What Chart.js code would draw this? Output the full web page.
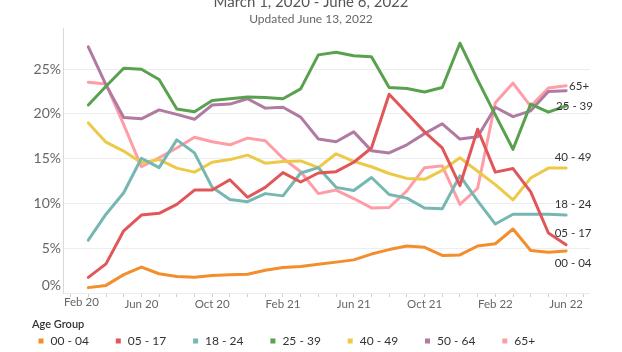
<!DOCTYPE html>
<html>
<head>
<meta charset="utf-8">
<title>Age Group</title>
<style>
  html, body { margin: 0; padding: 0; background: #fff; }
  #chart { display: block; }
</style>
</head>
<body>
<canvas id="chart" width="622" height="352"></canvas>
<script src="https://cdn.jsdelivr.net/npm/chart.js@4.4.0/dist/chart.umd.min.js"></script>
<script>
// Months plotted (x = index, Mar 20 = 0)
const months = ['Mar 20', 'Apr 20', 'May 20', 'Jun 20', 'Jul 20', 'Aug 20', 'Sep 20', 'Oct 20', 'Nov 20', 'Dec 20',
    'Jan 21', 'Feb 21', 'Mar 21', 'Apr 21', 'May 21', 'Jun 21', 'Jul 21', 'Aug 21', 'Sep 21', 'Oct 21', 'Nov 21', 'Dec 21',
    'Jan 22', 'Feb 22', 'Mar 22', 'Apr 22', 'May 22', 'Jun 22'];
const tickLabels = ['Feb 20', 'Jun 20', 'Oct 20', 'Feb 21', 'Jun 21', 'Oct 21', 'Feb 22', 'Jun 22'];
const yTicks = [0, 5, 10, 15, 20, 25];

const ageGroups = ['00 - 04', '05 - 17', '18 - 24', '25 - 39', '40 - 49', '50 - 64', '65+'];

// % of cases per age group
const age0004 = [0.6, 0.85, 2.05, 2.9, 2.15, 1.85, 1.75, 1.95, 2.05, 2.1, 2.55, 2.85, 2.95, 3.2,
    3.45, 3.7, 4.35, 4.85, 5.25, 5.1, 4.2, 4.25, 5.25, 5.5, 7.15, 4.75, 4.55, 4.7];
const age0517 = [1.75, 3.25, 6.95, 8.7, 8.9, 9.9, 11.5, 11.5, 12.65, 10.7, 11.8, 13.45, 12.4, 13.4,
    13.55, 14.6, 16.2, 22.2, 20.1, 18.0, 16.2, 12.0, 18.3, 13.5, 13.9, 11.3, 6.7, 5.4];
const age1824 = [5.9, 8.8, 11.2, 15.05, 14.0, 17.1, 15.65, 11.8, 10.45, 10.2, 11.1, 10.85, 13.4, 14.0,
    11.8, 11.45, 12.9, 11.0, 10.6, 9.5, 9.4, 13.1, 10.3, 7.7, 8.8, 8.8, 8.8, 8.7];
const age2539 = [21.0, 23.1, 25.1, 25.0, 23.85, 20.55, 20.25, 21.5, 21.7, 21.9, 21.85, 21.7, 22.8, 26.6,
    26.9, 26.5, 26.4, 22.95, 22.85, 22.45, 22.95, 27.9, 23.8, 19.9, 16.05, 21.1, 20.2, 20.9];
const age4049 = [19.0, 16.85, 15.85, 14.55, 14.9, 13.95, 13.5, 14.6, 14.9, 15.4, 14.5, 14.7, 14.75, 14.0,
    15.55, 14.7, 14.1, 13.35, 12.8, 12.7, 13.7, 15.1, 13.6, 12.1, 10.4, 12.85, 13.95, 13.95];
const age5064 = [27.5, 23.25, 19.6, 19.45, 20.45, 19.95, 19.4, 21.0, 21.1, 21.7, 20.65, 20.75, 19.65, 17.2,
    16.9, 18.0, 15.9, 15.65, 16.55, 17.8, 18.9, 17.2, 17.45, 20.75, 19.7, 20.35, 22.5, 22.6];
const age65 = [23.55, 23.35, 18.8, 14.1, 15.1, 16.2, 17.4, 16.9, 16.55, 17.3, 17.0, 15.05, 13.55, 11.1,
    11.5, 10.55, 9.5, 9.55, 11.4, 14.0, 14.2, 9.9, 11.7, 21.25, 23.45, 20.85, 22.9, 23.15];

const series = [age0004, age0517, age1824, age2539, age4049, age5064, age65];
const colors = ['#F28E2B', '#E15759', '#76B7B2', '#59A14F', '#EDC948', '#B07AA1', '#FF9DA7'];

// where the label sits next to the last point (dx, dy, align); null = no label
const endLabelPos = [
    { dx: 7, dy: 12, align: 'center' },
    { dx: 7, dy: -11, align: 'center' },
    { dx: 7, dy: -11, align: 'center' },
    { dx: -10, dy: 0, align: 'left' },
    { dx: 7, dy: -11, align: 'center' },
    null,
    { dx: 3, dy: 1, align: 'left' }
];

const FONT = 'Lato, "Open Sans", sans-serif';

const datasets = series.map((vals, i) => ({
    label: ageGroups[i],
    data: vals.map((v, j) => ({ x: j, y: v })),
    borderColor: colors[i],
    backgroundColor: colors[i],
    borderWidth: 3,
    pointRadius: 0,
    tension: 0,
    borderJoinStyle: 'round',
    borderCapStyle: 'round'
}));

// titre, étiquettes de fin et légende
const extras = {
    id: 'extras',
    afterDraw(chart) {
        const { ctx, chartArea, scales } = chart;
        ctx.save();

        ctx.textAlign = 'center';
        ctx.textBaseline = 'alphabetic';
        ctx.fillStyle = '#555';
        ctx.font = '15px ' + FONT;
        ctx.fillText('March 1, 2020 - June 6, 2022', 311, 7);
        ctx.textBaseline = 'middle';
        ctx.fillStyle = '#666';
        ctx.font = '12px ' + FONT;
        ctx.fillText('Updated June 13, 2022', 311, 19);

        // edge tick labels kept inside the axis like the original
        ctx.fillStyle = '#666';
        ctx.font = '14px ' + FONT;
        ctx.textAlign = 'right';
        ctx.fillText(yTicks[0] + '%', chartArea.left - 2, scales.y.getPixelForValue(0) - 8);
        ctx.font = '11.5px ' + FONT;
        ctx.textAlign = 'left';
        ctx.textBaseline = 'top';
        ctx.fillText(tickLabels[0], chartArea.left + 1, chartArea.bottom + 4);

        // labels at line ends
        ctx.fillStyle = '#333';
        ctx.font = '11.5px ' + FONT;
        ctx.textBaseline = 'middle';
        chart.data.datasets.forEach((ds, i) => {
            const pos = endLabelPos[i];
            if (!pos) return;
            const pts = chart.getDatasetMeta(i).data;
            const last = pts[pts.length - 1];
            ctx.textAlign = pos.align;
            ctx.fillText(ds.label, last.x + pos.dx, last.y + pos.dy);
        });

        // legend
        ctx.textAlign = 'left';
        ctx.fillStyle = '#333';
        ctx.font = '600 11px ' + FONT;
        ctx.fillText('Age Group', 32, 324);
        ctx.font = '12px ' + FONT;
        ageGroups.forEach((g, i) => {
            const x = 38.5 + i * 77.3;
            ctx.fillStyle = colors[i];
            ctx.fillRect(x, 338.5, 5, 5);
            ctx.fillStyle = '#333';
            ctx.fillText(g, x + 12, 341);
        });

        ctx.restore();
    }
};

new Chart(document.getElementById('chart'), {
    type: 'line',
    data: { datasets },
    options: {
        responsive: false,
        animation: false,
        devicePixelRatio: 1,
        layout: { padding: { top: 28, right: 32, bottom: 37, left: 0 } },
        plugins: { legend: { display: false }, tooltip: { enabled: false } },
        scales: {
            x: {
                type: 'linear',
                min: -1.43,
                max: 28.35,
                afterFit: s => { s.height = 22; },
                afterBuildTicks: axis => {
                    axis.ticks = [];
                    for (let v = -1; v <= 28; v++) axis.ticks.push({ value: v });
                },
                border: { display: false },
                grid: { drawOnChartArea: false, drawTicks: true, tickLength: 4, tickColor: '#d0d0d0' },
                ticks: {
                    autoSkip: false,
                    maxRotation: 0,
                    minRotation: 0,
                    padding: 0,
                    color: c => (c.tick && c.tick.value === -1 ? 'rgba(0,0,0,0)' : '#666'),
                    font: { family: FONT, size: 11.5 },
                    callback: v => ((v + 1) % 4 === 0 ? tickLabels[(v + 1) / 4] : '')
                }
            },
            y: {
                min: 0,
                max: 29.6,
                afterFit: s => { s.width = 63; },
                afterBuildTicks: axis => { axis.ticks = yTicks.map(v => ({ value: v })); },
                border: { display: true, color: '#dadada' },
                grid: { color: '#ededed', drawTicks: false },
                ticks: {
                    padding: 2,
                    color: c => (c.tick && c.tick.value === 0 ? 'rgba(0,0,0,0)' : '#666'),
                    font: { family: FONT, size: 14 },
                    callback: v => v + '%'
                }
            }
        }
    },
    plugins: [extras]
});
</script>
</body>
</html>
